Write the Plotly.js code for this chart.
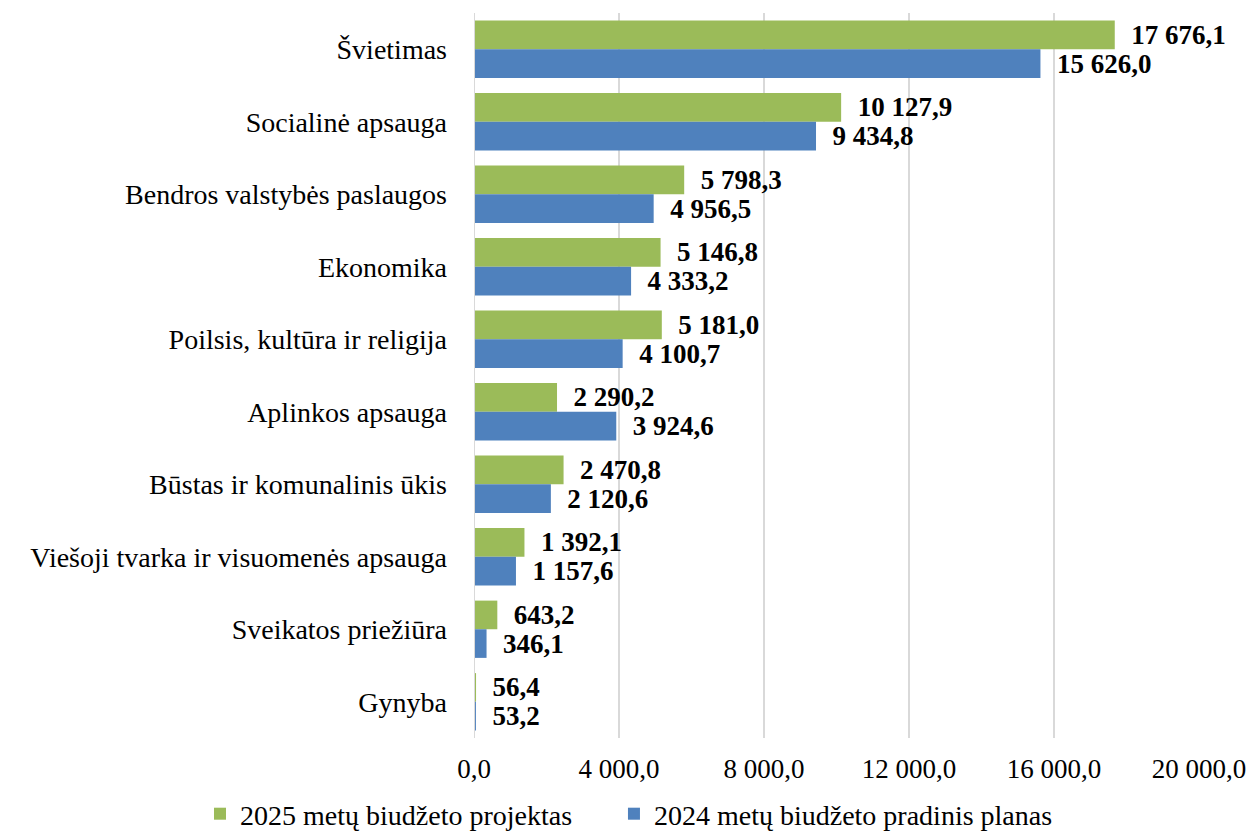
<!DOCTYPE html>
<html>
<head>
<meta charset="utf-8">
<script src="https://cdn.plot.ly/plotly-3.0.1.min.js"></script>
<style>
  html, body { margin: 0; padding: 0; background: #fff; }
  #chart { width: 1254px; height: 839px; }
</style>
</head>
<body>
<div id="chart"></div>
<script>
const categories = [
  'Švietimas',
  'Socialinė apsauga',
  'Bendros valstybės paslaugos',
  'Ekonomika',
  'Poilsis, kultūra ir religija',
  'Aplinkos apsauga',
  'Būstas ir komunalinis ūkis',
  'Viešoji tvarka ir visuomenės apsauga',
  'Sveikatos priežiūra',
  'Gynyba'
];
const budget2025 = [17676.1, 10127.9, 5798.3, 5146.8, 5181.0, 2290.2, 2470.8, 1392.1, 643.2, 56.4];
const budget2024 = [15626.0, 9434.8, 4956.5, 4333.2, 4100.7, 3924.6, 2120.6, 1157.6, 346.1, 53.2];
const xTicks = [0, 4000, 8000, 12000, 16000, 20000];

const serif = 'Liberation Serif, Times New Roman, serif';

function barTrace(name, values, color, legendId) {
  return {
    type: 'bar',
    orientation: 'h',
    name,
    legend: legendId,
    y: categories,
    x: values,
    marker: { color },
    texttemplate: '  %{x:,.1f}',
    textposition: 'outside',
    constraintext: 'none',
    cliponaxis: false,
    textfont: { family: serif, size: 27, color: '#000', weight: 'bold' },
    hoverinfo: 'skip'
  };
}

const traces = [
  barTrace('2025 metų biudžeto projektas', budget2025, '#9BBB59', 'legend'),
  barTrace('2024 metų biudžeto pradinis planas', budget2024, '#4F81BD', 'legend2')
];

// one legend per series so each entry sits where the original has it
function legendAt(x) {
  return {
    orientation: 'h',
    xref: 'container',
    x,
    xanchor: 'left',
    yref: 'container',
    y: -0.023,
    yanchor: 'bottom',
    font: { family: serif, size: 28 },
    itemclick: false
  };
}

const layout = {
  width: 1254,
  height: 839,
  separators: ', ',
  barmode: 'group',
  bargap: 0.21,
  bargroupgap: 0,
  paper_bgcolor: '#fff',
  plot_bgcolor: '#fff',
  font: { family: serif, size: 27, color: '#000' },
  margin: { l: 474, r: 55, t: 13, b: 101 },
  xaxis: {
    range: [0, 20000],
    tickvals: xTicks,
    tickformat: ',.1f',
    showgrid: true,
    gridcolor: '#D9D9D9',
    gridwidth: 2,
    zeroline: false,
    showline: false,
    ticks: '',
    ticklabelstandoff: 12,
    tickfont: { family: serif, size: 27 }
  },
  yaxis: {
    autorange: 'reversed',
    showgrid: false,
    zeroline: false,
    showline: false,
    ticks: '',
    ticklabelstandoff: 26,
    tickfont: { family: serif, size: 28 }
  },
  showlegend: true,
  legend: legendAt(0.1595),
  legend2: legendAt(0.4896),
  shapes: [{
    type: 'line', xref: 'x', yref: 'paper',
    x0: 0, x1: 0, y0: 0, y1: 1,
    line: { color: '#D9D9D9', width: 2 }
  }]
};

Plotly.newPlot('chart', traces, layout, { displayModeBar: false, staticPlot: true });
</script>
</body>
</html>
